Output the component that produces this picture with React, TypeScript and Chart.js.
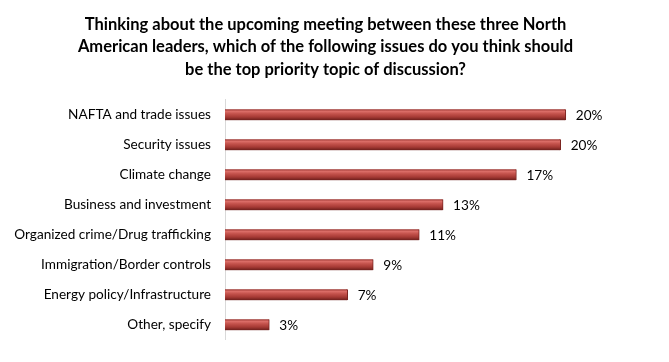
import React, { useEffect, useRef } from "react";
import { Chart, registerables } from "chart.js";

Chart.register(...registerables);

const titleLines = [
  "Thinking about the upcoming meeting between these three North",
  "American leaders, which of the following issues do you think should",
  "be the top priority topic of discussion?",
];

const categories = [
  "NAFTA and trade issues",
  "Security issues",
  "Climate change",
  "Business and investment",
  "Organized crime/Drug trafficking",
  "Immigration/Border controls",
  "Energy policy/Infrastructure",
  "Other, specify",
];

const values = [20.0, 19.7, 17.1, 12.8, 11.4, 8.7, 7.2, 2.6];
const valueLabels = ["20%", "20%", "17%", "13%", "11%", "9%", "7%", "3%"];

const FONT = "Lato, 'Open Sans', sans-serif";

const valueLabelPlugin = {
  id: "valueLabels",
  afterDatasetsDraw(chart: any) {
    const ctx = chart.ctx;
    const meta = chart.getDatasetMeta(0);
    ctx.save();
    ctx.font = `13.6px ${FONT}`;
    ctx.fillStyle = "#000";
    ctx.textAlign = "left";
    ctx.textBaseline = "middle";
    meta.data.forEach((bar: any, i: number) => {
      ctx.fillText(valueLabels[i], bar.x + 10, bar.y + 1);
    });
    ctx.restore();
  },
};

function barFill(context: any) {
  const chart = context.chart;
  const yScale = chart.scales && chart.scales.y;
  if (!chart.chartArea || !yScale) return "#b7433e";
  const cy = yScale.getPixelForValue(context.dataIndex);
  const h = 11;
  const g = chart.ctx.createLinearGradient(0, cy - h / 2, 0, cy + h / 2);
  g.addColorStop(0, "#9a3430");
  g.addColorStop(0.18, "#dc6e68");
  g.addColorStop(0.4, "#c4524c");
  g.addColorStop(0.7, "#a63a35");
  g.addColorStop(1, "#6a1d1a");
  return g;
}

export default function App() {
  const ref = useRef<HTMLCanvasElement | null>(null);
  useEffect(() => {
    if (!ref.current) return;
    const chart = new Chart(ref.current, {
      type: "bar",
      data: {
        labels: categories,
        datasets: [
          {
            data: values,
            backgroundColor: barFill as any,
            borderColor: "#7a2420",
            borderWidth: { top: 0, bottom: 0, left: 0, right: 1 } as any,
            barThickness: 11,
            borderSkipped: false,
          },
        ],
      },
      options: {
        indexAxis: "y",
        animation: false,
        responsive: false,
        maintainAspectRatio: false,
        layout: { padding: { left: 0, right: 18, top: 0, bottom: 19 } },
        plugins: {
          legend: { display: false },
          tooltip: { enabled: false },
          title: {
            display: true,
            text: titleLines,
            color: "#000",
            font: { family: FONT, size: 16.5, weight: "bold", lineHeight: 1.37 },
            padding: { top: 13, bottom: 19 },
          },
        },
        scales: {
          x: {
            display: false,
            min: 0,
            max: 25,
          },
          y: {
            grid: { display: false, drawTicks: false },
            border: { display: true, color: "#d9d9d9", width: 1 },
            ticks: {
              color: "#000",
              font: { family: FONT, size: 13.6 },
              padding: 14,
            },
            afterFit: (scale: any) => {
              scale.width = 225;
            },
          },
        },
      },
      plugins: [valueLabelPlugin],
    });
    return () => chart.destroy();
  }, []);
  return (
    <div style={{ position: "fixed", left: 0, top: 0, width: 669, height: 362, background: "#fff" }}>
      <canvas ref={ref} width={669} height={362} style={{ width: 669, height: 362 }} />
    </div>
  );
}
